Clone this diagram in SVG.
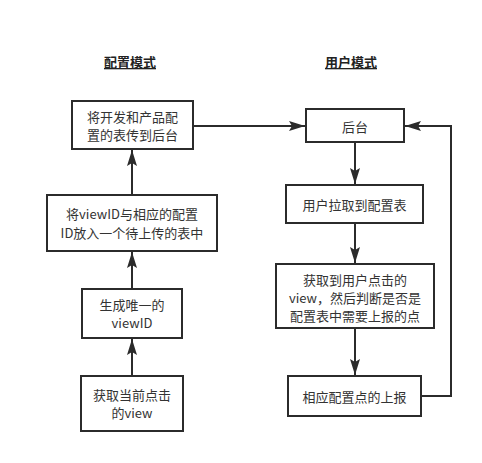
<svg xmlns="http://www.w3.org/2000/svg" width="482" height="463" viewBox="0 0 482 463">
<defs>
<style>
.box{fill:#fff;stroke:#2b2b2b;stroke-width:2}
.t{font-family:"Noto Sans CJK SC","Liberation Sans",sans-serif;font-size:13px;fill:#333;text-anchor:middle;dominant-baseline:central}
.h{font-family:"Noto Sans CJK SC","Liberation Sans",sans-serif;font-size:13px;font-weight:bold;fill:#222;text-anchor:middle;text-decoration:underline}
.c{fill:none;stroke:#2b2b2b;stroke-width:2}
</style>
<marker id="ah" viewBox="0 0 16 10" refX="16" refY="5" markerWidth="16" markerHeight="10" markerUnits="userSpaceOnUse" orient="auto">
<path d="M0,0 L16,5 L0,10 L3,5 Z" fill="#2b2b2b"/>
</marker>
</defs>
<rect width="482" height="463" fill="#fff"/>
<text class="h" x="130" y="67">配置模式</text>
<text class="h" x="351" y="67">用户模式</text>
<g id="connectors">
<path class="c" d="M193,126 L305,126" marker-end="url(#ah)"/>
<path class="c" d="M132,195 L132,150" marker-end="url(#ah)"/>
<path class="c" d="M132,289 L132,252" marker-end="url(#ah)"/>
<path class="c" d="M132,376 L132,339" marker-end="url(#ah)"/>
<path class="c" d="M355,142 L355,184" marker-end="url(#ah)"/>
<path class="c" d="M355,223 L355,263" marker-end="url(#ah)"/>
<path class="c" d="M355,328 L355,375" marker-end="url(#ah)"/>
<path class="c" d="M421,396 L451,396 L451,126 L405,126" marker-end="url(#ah)"/>
</g>
<g id="n1">
<rect class="box" x="72" y="101" width="121" height="48"/>
<text class="t" x="132.5" y="116">将开发和产品配</text>
<text class="t" x="132.5" y="134">置的表传到后台</text>
</g>
<g id="n2">
<rect class="box" x="47" y="195" width="170" height="56"/>
<text class="t" x="132" y="213">将viewID与相应的配置</text>
<text class="t" x="132" y="232">ID放入一个待上传的表中</text>
</g>
<g id="n3">
<rect class="box" x="82" y="289" width="100" height="49"/>
<text class="t" x="132" y="304">生成唯一的</text>
<text class="t" x="132" y="322">viewID</text>
</g>
<g id="n4">
<rect class="box" x="81" y="376" width="102" height="55"/>
<text class="t" x="132" y="394">获取当前点击</text>
<text class="t" x="132" y="412">的view</text>
</g>
<g id="n5">
<rect class="box" x="306" y="109" width="98" height="33"/>
<text class="t" x="355" y="126">后台</text>
</g>
<g id="n6">
<rect class="box" x="286" y="185" width="137" height="38"/>
<text class="t" x="354.5" y="204">用户拉取到配置表</text>
</g>
<g id="n7">
<rect class="box" x="276" y="264" width="158" height="64"/>
<text class="t" x="355" y="279">获取到用户点击的</text>
<text class="t" x="355" y="297">view，然后判断是否是</text>
<text class="t" x="355" y="315">配置表中需要上报的点</text>
</g>
<g id="n8">
<rect class="box" x="288" y="376" width="133" height="40"/>
<text class="t" x="354.5" y="396">相应配置点的上报</text>
</g>
</svg>
